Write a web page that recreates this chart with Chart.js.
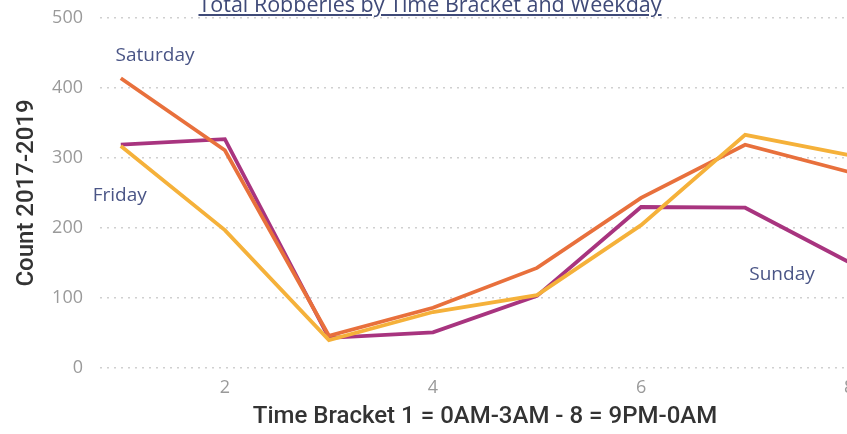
<!DOCTYPE html>
<html>
<head>
<meta charset="utf-8">
<script src="https://cdn.jsdelivr.net/npm/chart.js@4.4.1/dist/chart.umd.min.js"></script>
<style>
  html, body { margin: 0; padding: 0; background: #fff; overflow: hidden; }
  #wrap { position: relative; width: 870px; height: 434px; }
  #title {
    position: absolute; left: 0; width: 860px; top: -11px; text-align: center;
    font-family: "Open Sans", sans-serif; font-size: 21.5px; color: #3f4a78;
    text-decoration: underline; white-space: nowrap;
  }
</style>
</head>
<body>
<div id="wrap">
  <canvas id="myChart" width="870" height="434"></canvas>
  <div id="title">Total Robberies by Time Bracket and Weekday</div>
</div>
<script>
const brackets = [1, 2, 3, 4, 5, 6, 7, 8];
const saturday = [414, 311, 46, 86, 143, 243, 319, 280];
const friday = [317, 197, 40, 80, 104, 204, 333, 304];
const sunday = [319, 327, 43, 51, 103, 230, 229, 151];
const xTicks = [2, 4, 6, 8];
const yTicks = [0, 100, 200, 300, 400, 500];

let myChart = document.getElementById("myChart").getContext("2d");

// series name labels placed in data units
const seriesLabels = {
  id: 'seriesLabels',
  afterDatasetsDraw(chart) {
    const c = chart.ctx, x = chart.scales.x, y = chart.scales.y;
    c.save();
    c.font = '19px "Open Sans", sans-serif';
    c.fillStyle = '#4a5586';
    c.textBaseline = 'middle';
    [['Saturday', 0.95, 447], ['Friday', 0.73, 246], ['Sunday', 7.04, 134]].forEach(l => {
      c.fillText(l[0], x.getPixelForValue(l[1]), y.getPixelForValue(l[2]));
    });
    c.restore();
  }
};

function pts(vals) {
  return vals.map((v, i) => ({x: brackets[i], y: v}));
}

let robChart = new Chart(myChart, {
  type: 'line',
  data: {
    datasets: [{
      label: 'Friday',
      data: pts(friday),
      borderColor: '#f5b13a',
    }, {
      label: 'Saturday',
      data: pts(saturday),
      borderColor: '#e8703c',
    }, {
      label: 'Sunday',
      data: pts(sunday),
      borderColor: '#a8347f',
    }]
  },
  options: {
    responsive: false,
    animation: false,
    layout: { padding: { top: 18 } },
    elements: {
      line: { borderWidth: 3.8, tension: 0 },
      point: { radius: 0 }
    },
    plugins: {
      legend: { display: false },
      tooltip: { enabled: false }
    },
    scales: {
      x: {
        type: 'linear',
        min: 0.8,
        max: 8.2,
        afterBuildTicks: s => { s.ticks = xTicks.map(v => ({value: v})); },
        afterFit: s => { s.height = 66; s.paddingLeft = 0; s.paddingRight = 0; },
        grid: { display: false, drawTicks: false },
        border: { display: false },
        ticks: { color: '#9a9a9a', font: { family: 'Open Sans', size: 18 }, padding: 9 },
        title: {
          display: true,
          text: 'Time Bracket 1 = 0AM-3AM - 8 = 9PM-0AM',
          color: '#333',
          font: { family: 'Roboto', size: 24, weight: 500 },
          padding: { top: 0, bottom: 3 }
        }
      },
      y: {
        min: 0,
        max: 500,
        afterBuildTicks: s => { s.ticks = yTicks.map(v => ({value: v})); },
        afterFit: s => { s.width = 100; s.paddingTop = 0; s.paddingBottom = 0; },
        grid: { color: '#d0d0d0', lineWidth: 1.5, drawTicks: false },
        border: { display: false, dash: [2, 5] },
        ticks: { color: '#9a9a9a', font: { family: 'Open Sans', size: 18 }, padding: 17 },
        title: {
          display: true,
          text: 'Count 2017-2019',
          color: '#333',
          font: { family: 'Roboto', size: 24, weight: 500 },
          padding: { top: 13, bottom: 0 }
        }
      }
    }
  },
  plugins: [seriesLabels]
});
</script>
</body>
</html>
